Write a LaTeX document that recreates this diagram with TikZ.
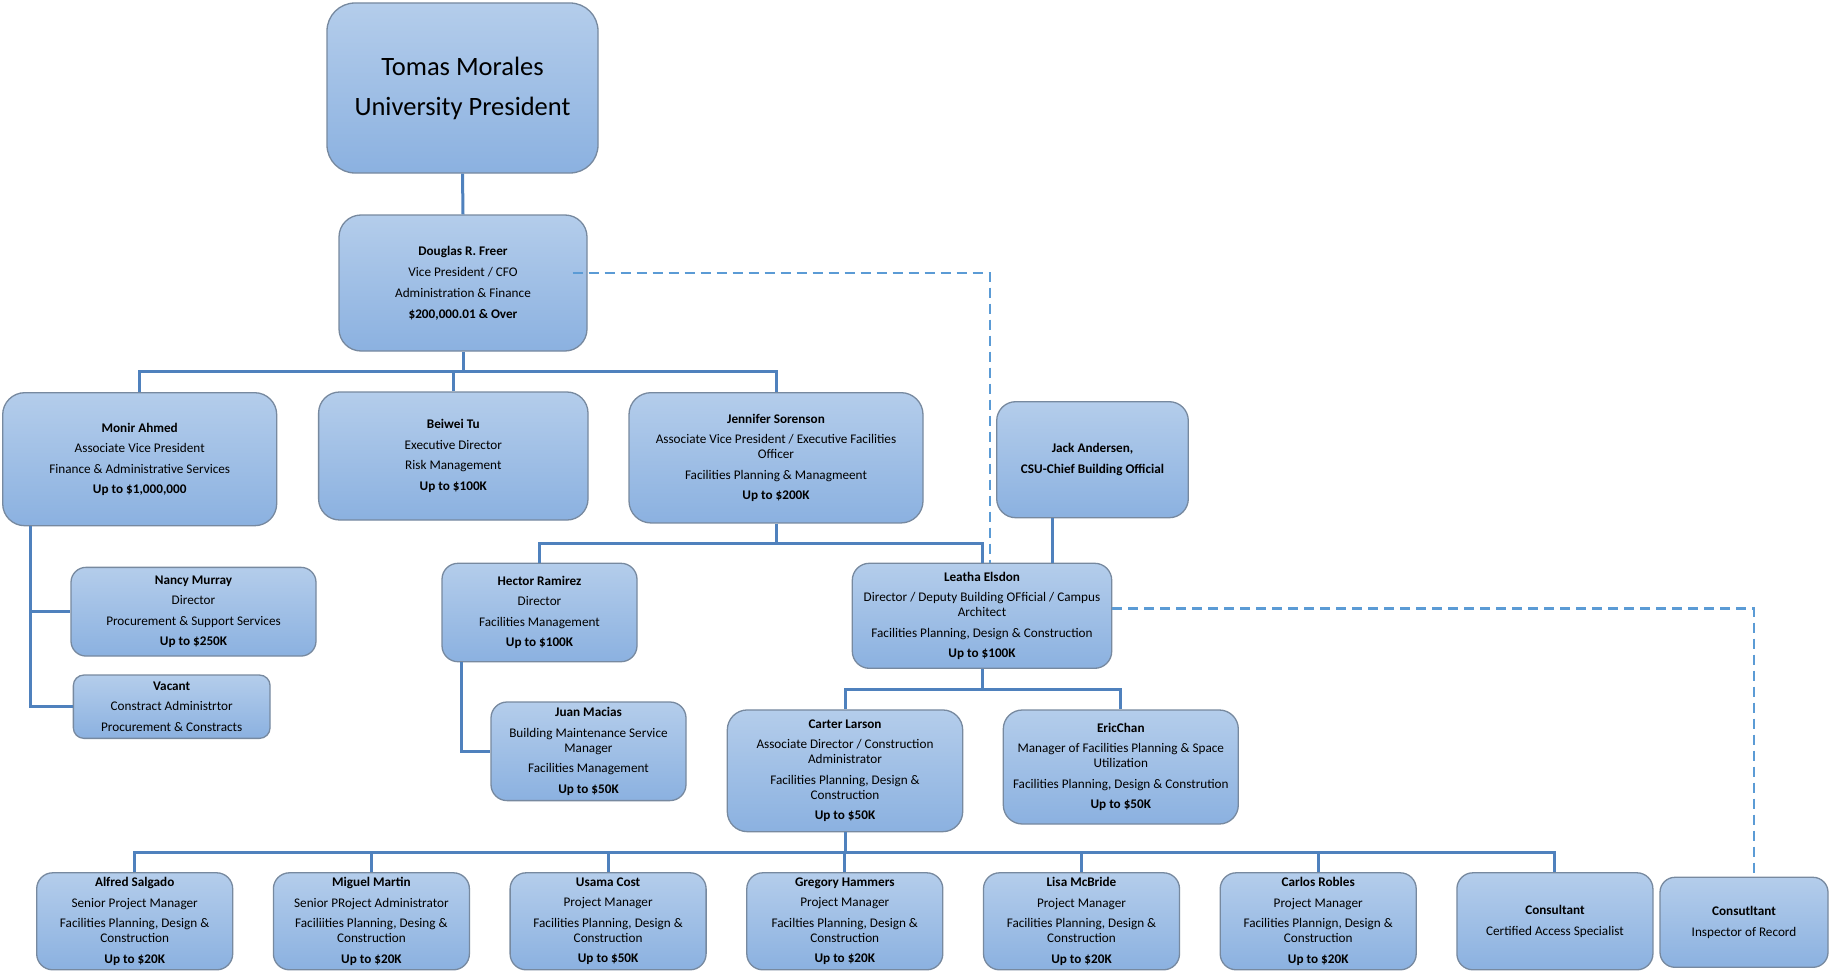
\documentclass[tikz,border=0pt]{standalone}
\usepackage{fontspec}
\setmainfont{Carlito}
\usetikzlibrary{calc}
\definecolor{boxtop}{HTML}{B4CDEB}
\definecolor{boxbot}{HTML}{8BB1E0}
\definecolor{boxline}{HTML}{77899F}
\definecolor{conn}{HTML}{4F81BD}
\definecolor{dashc}{HTML}{5B9BD5}
\tikzset{
  orgbox/.style={draw=boxline, line width=1.3pt, top color=boxtop, bottom color=boxbot,
    align=center, inner sep=0pt, font=\fontsize{13.2}{15}\selectfont, text=black},
  smallbox/.style={orgbox, minimum width=196pt, minimum height=97pt, rounded corners=16pt},
  conline/.style={draw=conn, line width=3pt},
  dashline/.style={draw=dashc, line width=2.5pt, dash pattern=on 10pt off 6pt},
}
\begin{document}
\begin{tikzpicture}[x=1pt,y=-1pt]
\useasboundingbox (0,0) rectangle (1830,971);
\fill[white] (0,0) rectangle (1830,971);

% coordinates for buses
\coordinate (bus1) at (0,371);
\coordinate (bus2) at (0,543);
\coordinate (bus3) at (0,689);
\coordinate (bus4) at (0,852.7);
\coordinate (mx) at (30.7,0);
\coordinate (hx) at (461,0);
\coordinate (jx) at (1052,0);
\coordinate (dx) at (990,0);

% boxes
\node[orgbox, minimum width=271pt, minimum height=170pt, rounded corners=28pt,
  font=\fontsize{26.5}{40}\selectfont] (pres) at (462.5,88) {Tomas Morales\\University President};

\node[orgbox, minimum width=248pt, minimum height=136pt, rounded corners=22pt] (freer) at (463,283)
 {\textbf{Douglas R. Freer}\\[6pt]Vice President / CFO\\[6pt]Administration \& Finance\\[6pt]\textbf{\$200,000.01 \& Over}};

\node[orgbox, minimum width=274pt, minimum height=133pt, rounded corners=22pt] (monir) at (139.7,459.2)
 {\textbf{Monir Ahmed}\\[5.5pt]Associate Vice President\\[5.5pt]Finance \& Administrative Services\\[5.5pt]\textbf{Up to \$1,000,000}};

\node[orgbox, minimum width=269.4pt, minimum height=128pt, rounded corners=21pt] (beiwei) at (453.3,456)
 {\textbf{Beiwei Tu}\\[5.5pt]Executive Director\\[5.5pt]Risk Management\\[5.5pt]\textbf{Up to \$100K}};

\node[orgbox, minimum width=294pt, minimum height=130.3pt, rounded corners=22pt] (jen) at (776,457.8)
 {\textbf{Jennifer Sorenson}\\[5.5pt]Associate Vice President / Executive Facilities\\Officer\\[5.5pt]Facilities Planning \& Managmeent\\[5.5pt]\textbf{Up to \$200K}};

\node[orgbox, minimum width=191.6pt, minimum height=116pt, rounded corners=19pt] (jack) at (1092.5,459.7)
 {\textbf{Jack Andersen,}\\[5.5pt]\textbf{CSU-Chief Building Official}};

\node[orgbox, minimum width=245pt, minimum height=88.7pt, rounded corners=15pt] (nancy) at (193.5,611.7)
 {\textbf{Nancy Murray}\\[5.5pt]Director\\[5.5pt]Procurement \& Support Services\\[5.5pt]\textbf{Up to \$250K}};

\node[orgbox, minimum width=196.7pt, minimum height=63.3pt, rounded corners=10.5pt] (vacant) at (171.7,706.7)
 {\textbf{Vacant}\\[5.5pt]Constract Administrtor\\[5.5pt]Procurement \& Constracts};

\node[orgbox, minimum width=195pt, minimum height=98.4pt, rounded corners=16pt] (hector) at (539.5,612.5)
 {\textbf{Hector Ramirez}\\[5.5pt]Director\\[5.5pt]Facilities Management\\[5.5pt]\textbf{Up to \$100K}};

\node[orgbox, minimum width=195pt, minimum height=98.6pt, rounded corners=16pt] (juan) at (588.5,751.3)
 {\textbf{Juan Macias}\\[5.5pt]Building Maintenance Service\\Manager\\[5.5pt]Facilities Management\\[5.5pt]\textbf{Up to \$50K}};

\node[orgbox, minimum width=259.4pt, minimum height=105pt, rounded corners=17pt] (leatha) at (982,615.8)
 {\textbf{Leatha Elsdon}\\[5.5pt]Director / Deputy Building OFficial / Campus\\Architect\\[5.5pt]Facilities Planning, Design \& Construction\\[5.5pt]\textbf{Up to \$100K}};

\node[orgbox, minimum width=235.4pt, minimum height=121.7pt, rounded corners=20pt] (carter) at (845,770.8)
 {\textbf{Carter Larson}\\[5.5pt]Associate Director / Construction\\Administrator\\[5.5pt]Facilities Planning, Design \&\\Construction\\[5.5pt]\textbf{Up to \$50K}};

\node[orgbox, minimum width=235pt, minimum height=114pt, rounded corners=19pt] (eric) at (1120.8,767)
 {\textbf{EricChan}\\[5.5pt]Manager of Facilities Planning \& Space\\Utilization\\[5.5pt]Facilities Planning, Design \& Constrution\\[5.5pt]\textbf{Up to \$50K}};

\node[smallbox] (alfred) at (134.7,921.3)
 {\textbf{Alfred Salgado}\\[5.5pt]Senior Project Manager\\[5.5pt]Facilities Planning, Design \&\\Construction\\[5.5pt]\textbf{Up to \$20K}};
\node[smallbox] (miguel) at (371.4,921.3)
 {\textbf{Miguel Martin}\\[5.5pt]Senior PRoject Administrator\\[5.5pt]Faciliities Planning, Desing \&\\Construction\\[5.5pt]\textbf{Up to \$20K}};
\node[smallbox] (usama) at (608.1,921.3)
 {\textbf{Usama Cost}\\[5.5pt]Project Manager\\[5.5pt]Facilities Planning, Design \&\\Construction\\[5.5pt]\textbf{Up to \$50K}};
\node[smallbox] (gregory) at (844.8,921.3)
 {\textbf{Gregory Hammers}\\[5.5pt]Project Manager\\[5.5pt]Facilties Planning, Design \&\\Construction\\[5.5pt]\textbf{Up to \$20K}};
\node[smallbox] (lisa) at (1081.5,921.3)
 {\textbf{Lisa McBride}\\[5.5pt]Project Manager\\[5.5pt]Facilities Planning, Design \&\\Construction\\[5.5pt]\textbf{Up to \$20K}};
\node[smallbox] (carlos) at (1318.2,921.3)
 {\textbf{Carlos Robles}\\[5.5pt]Project Manager\\[5.5pt]Facilities Plannign, Design \&\\Construction\\[5.5pt]\textbf{Up to \$20K}};
\node[smallbox] (cons) at (1554.9,921.3)
 {\textbf{Consultant}\\[5.5pt]Certified Access Specialist};
\node[orgbox, minimum width=168pt, minimum height=90pt, rounded corners=15pt] (cons2) at (1744,922.3)
 {\textbf{Consutltant}\\[5.5pt]Inspector of Record};

% solid connectors
\draw[conline] (pres.south) -- (freer.north);
\draw[conline] (freer.south) -- (freer.south |- bus1);
\draw[conline] (monir.north) |- (jen.north |- bus1) -- (jen.north);
\draw[conline] (beiwei.north) -- (beiwei.north |- bus1);

\draw[conline] (mx |- monir.south) |- (vacant.west);
\draw[conline] (mx |- nancy.west) -- (nancy.west);

\draw[conline] (jen.south) -- (jen.south |- bus2);
\draw[conline] (hector.north) |- (leatha.north |- bus2) -- (leatha.north);
\draw[conline] (jx |- jack.south) -- (jx |- leatha.north);
\draw[conline] (hx |- hector.south) |- (juan.west);

\draw[conline] (leatha.south) -- (leatha.south |- bus3);
\draw[conline] (carter.north) |- (eric.north |- bus3) -- (eric.north);

\draw[conline] (carter.south) -- (carter.south |- bus4);
\draw[conline] (alfred.north) |- (cons.north |- bus4) -- (cons.north);
\foreach \n in {miguel,usama,gregory,lisa,carlos}
  \draw[conline] (\n.north) -- (\n.north |- bus4);

% dashed connectors
\draw[dashline] ([xshift=-15pt,yshift=10pt]freer.east) -| (dx |- leatha.north);
\draw[dashline] ([yshift=7.5pt]leatha.east) -| ([xshift=10pt]cons2.north);
\end{tikzpicture}
\end{document}
